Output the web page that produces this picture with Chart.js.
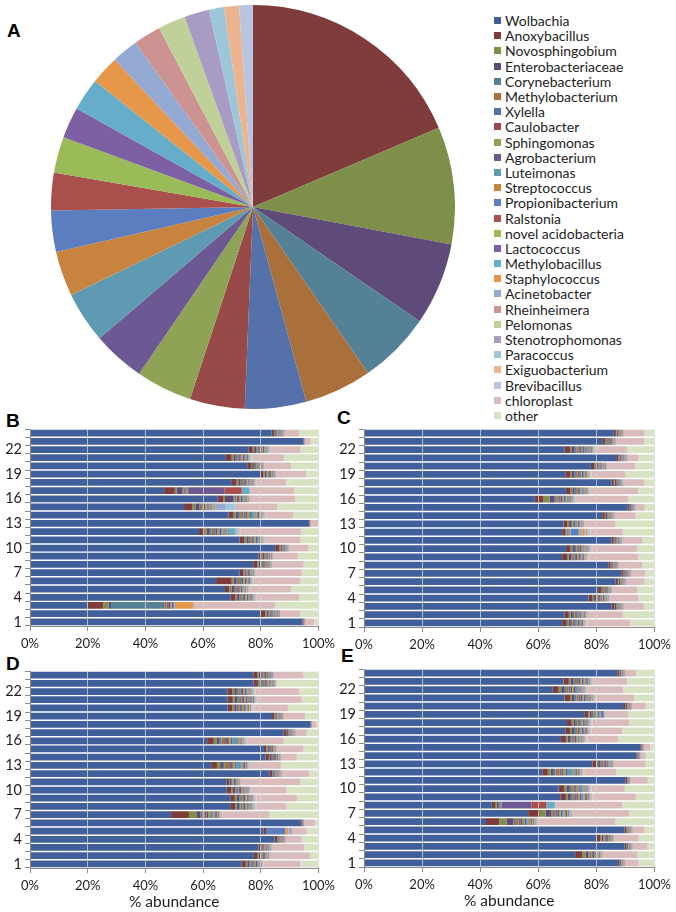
<!DOCTYPE html>
<html>
<head>
<meta charset="utf-8">
<script src="https://cdn.jsdelivr.net/npm/chart.js@4.4.1/dist/chart.umd.min.js"></script>
<style>
  body { margin: 0; background: #fff; width: 676px; height: 912px; position: relative; overflow: hidden; }
  canvas { position: absolute; }
  .lbl { position: absolute; font: bold 19px "Liberation Sans", Arial, sans-serif; line-height: 19px; color: #000; }
  #legend { position: absolute; left: 494px; top: 13px; margin: 0; padding: 0; list-style: none;
            font: 14px Lato, "DejaVu Sans", sans-serif; color: #1e1e1e; }
  #legend li { height: 15.2px; display: flex; align-items: center; white-space: nowrap; }
  #legend span { display: inline-block; width: 7px; height: 7px; margin-right: 4px; }
</style>
</head>
<body>
<div class="lbl" style="left:7px;top:21px">A</div>
<div class="lbl" style="left:6px;top:411px">B</div>
<div class="lbl" style="left:337px;top:408px">C</div>
<div class="lbl" style="left:6px;top:654px">D</div>
<div class="lbl" style="left:341px;top:646px">E</div>

<canvas id="pie" width="404" height="404" style="left:51px;top:5px"></canvas>
<ul id="legend"></ul>
<canvas id="chartB" width="340" height="250" style="left:0px;top:405px"></canvas>
<canvas id="chartC" width="342" height="250" style="left:334px;top:405px"></canvas>
<canvas id="chartD" width="340" height="264" style="left:0px;top:648px"></canvas>
<canvas id="chartE" width="342" height="264" style="left:334px;top:648px"></canvas>

<script>
// taxa in legend / stacking order
const taxa = ['Wolbachia', 'Anoxybacillus', 'Novosphingobium', 'Enterobacteriaceae', 'Corynebacterium',
  'Methylobacterium', 'Xylella', 'Caulobacter', 'Sphingomonas', 'Agrobacterium', 'Luteimonas',
  'Streptococcus', 'Propionibacterium', 'Ralstonia', 'novel acidobacteria', 'Lactococcus',
  'Methylobacillus', 'Staphylococcus', 'Acinetobacter', 'Rheinheimera', 'Pelomonas',
  'Stenotrophomonas', 'Paracoccus', 'Exiguobacterium', 'Brevibacillus', 'chloroplast', 'other'];

const taxaColors = ['#41609b', '#7e3c3b', '#7d8f49', '#5e4b7a', '#558197', '#a9703b', '#5571a9',
  '#974a48', '#8fa356', '#6c5893', '#5e9bb2', '#c8833f', '#5b7ec0', '#a9504d', '#9bbb59',
  '#7c60a3', '#66adc9', '#e6974a', '#95aad3', '#cc9392', '#bfd098', '#a99cc4', '#9dc7d9',
  '#ebb48f', '#b8c4e0', '#dbbcbd', '#d8e3c4'];

// pie: share of non-Wolbachia taxa (Wolbachia, chloroplast, other not shown)
const pieShares = [0, 18.6, 9.4, 6.6, 5.8, 5.4, 4.9, 4.4, 4.5, 4.2, 4.1, 3.6, 3.3, 3.0, 2.9,
  2.5, 2.6, 2.3, 2.1, 2.2, 2.2, 2.0, 1.2, 1.2, 1.1, 0, 0];

const barLabels = ['1', '2', '3', '4', '5', '6', '7', '8', '9', '10', '11', '12',
  '13', '14', '15', '16', '17', '18', '19', '20', '21', '22', '23', '24'];

// ---- panel B ----
const wolB = [94.5, 79.9, 20.0, 69.5, 67.6, 64.5, 72.7, 77.4, 79.2, 85.0, 72.7, 58.6,
  96.7, 68.8, 53.4, 65.1, 46.5, 70.0, 79.9, 75.3, 67.9, 75.7, 94.8, 83.7];
const chlB = [3.2, 6.6, 27.7, 14.8, 14.0, 16.2, 15.8, 10.6, 8.3, 6.7, 12.1, 20.9,
  2.8, 9.3, 14.8, 15.4, 15.3, 10.3, 10.3, 9.3, 10.9, 10.5, 2.1, 5.1];
const othB = [1.5, 6.4, 15.1, 6.7, 9.5, 6.2, 5.8, 5.2, 7.2, 3.5, 6.3, 6.0,
  0, 8.7, 14.2, 8.1, 8.3, 11.2, 4.3, 9.5, 12.0, 6.2, 2.7, 6.7];
// minor taxa per sample (Anoxybacillus ... Brevibacillus), missing = 0
const midB = [
  [0.3,0.1,0.1,0,0.1,0,0.1,0,0,0,0,0,0,0,0,0,0,0.1],
  [1.6,0.5,0.7,0.4,0.5,0.4,0.3,0.4,0.4,0.3,0.2,0.3,0.2,0.2,0.2,0.1,0.1,0.1,0.1,0.1],
  [5.4,1.8,0.9,18.4,0.8,0.6,0.8,0.4,0.5,0.5,0.1,0.1,0,0,0,0,6.3,0.2,0.2,0.1,0.1],
  [1.7,0.6,0.8,0.5,0.6,0.5,0.4,0.5,0.5,0.4,0.3,0.3,0.3,0.2,0.2,0.3,0.2,0.2,0.2,0.1,0.1,0.1],
  [1.5,0.7,0.9,0.4,0.6,0.5,0.5,0.4,0.5,0.4,0.3,0.3,0.2,0.3,0.2,0.2,0.2,0.2,0.2,0.1,0.1,0.1,0.1],
  [5.4,0.7,0.9,0.6,0.7,0.6,0.5,0.5,0.5,0.4,0.3,0.3,0.3,0.2,0.2,0.2,0.2,0.1,0.1,0.1,0.1,0.1,0.1],
  [1.2,0.4,0.5,0.3,0.4,0.4,0.3,0.3,0.3,0.3,0.2,0.2,0.2,0.1,0.1,0.1,0.1,0.1,0.1,0.1],
  [1.4,0.5,0.6,0.4,0.5,0.4,0.3,0.4,0.3,0.3,0.3,0.2,0.2,0.2,0.2,0.2,0.1,0.1,0.1,0.1],
  [1.1,0.4,0.5,0.3,0.4,0.3,0.3,0.3,0.3,0.2,0.2,0.2,0.2,0.1,0.1,0.1,0.1,0.1,0.1],
  [1.5,0.3,0.5,0.3,0.4,0.3,0.2,0.2,0.2,0.2,0.1,0.1,0.1,0.1,0.1,0.1,0.1],
  [1.7,0.6,0.8,0.5,0.6,0.5,0.4,0.5,0.4,0.4,0.3,0.3,0.3,0.3,0.2,0.2,0.2,0.2,0.2,0.1,0.1,0.1],
  [1.9,0.8,1.0,0.7,0.8,0.6,0.6,0.6,0.6,0.6,0.5,0.5,0.4,0.4,0.3,2.3,0.3,0.5,0.3,0.2,0.2,0.2,0.1,0.1],
  [0.2,0.1,0.1,0,0.1],
  [1.8,0.7,1.0,0.8,0.9,0.7,0.6,0.7,0.6,1.3,0.6,0.5,0.4,0.4,0.3,0.4,0.3,0.3,0.2,0.2,0.2,0.1,0.1,0.1],
  [2.8,1.1,1.5,0.5,0.6,0.4,0.4,0.5,0.4,0.5,0.4,0.4,0.3,0.4,0.3,0.3,0.3,3.1,0,0,0,3.4],
  [2.0,0.5,2.8,0.5,0.7,0.5,0.5,0.5,0.4,0.6,0.4,0.3,0.3,0.3,0.2,0.3,0.2,0.2,0.2],
  [3.7,0.6,2.1,0.4,0.5,0.4,0.3,0.3,12.6,0,0,0,6.0,0,0,2.7,0.1,0.1,0.1],
  [1.6,0.6,0.8,0.5,0.6,0.5,0.4,0.4,0.4,0.4,0.3,0.3,0.3,0.2,0.2,0.2,0.2,0.2,0.1,0.1,0.1,0.1],
  [1.0,0.4,0.6,0.4,0.5,0.4,0.3,0.3,0.3,0.2,0.2,0.2,0.2,0.1,0.1,0.1,0.1,0.1],
  [1.3,0.4,0.6,0.4,0.5,0.4,0.3,0.3,0.3,0.3,0.2,0.2,0.2,0.1,0.1,0.1,0.1,0.1],
  [2.0,0.6,0.8,0.5,0.6,0.5,0.4,0.4,0.5,0.4,0.3,0.3,0.3,0.2,0.2,0.2,0.2,0.2,0.1,0.1,0.1,0.1,0.1,0.1],
  [1.5,0.5,0.7,0.5,0.5,0.5,0.4,0.4,0.4,0.3,0.3,0.3,0.2,0.2,0.2,0.2,0.1,0.1,0.1,0.1,0.1],
  [0.2,0,0.1,0,0.1],
  [0.9,0.4,0.5,0.3,0.4,0.3,0.3,0.2,0.2,0.2,0.2,0.2,0.1,0.1,0.1,0.1]
];

// ---- panel C ----
const wolC = [68.2, 69.0, 85.2, 77.3, 80.6, 86.6, 88.6, 84.1, 68.2, 69.5, 85.2, 68.2,
  68.7, 82.0, 90.8, 58.8, 69.5, 85.2, 69.3, 78.1, 86.8, 69.1, 82.0, 86.0];
const chlC = [14.8, 11.6, 6.9, 9.8, 8.6, 6.4, 4.9, 8.2, 17.0, 15.4, 7.0, 11.0,
  10.5, 7.1, 3.2, 17.7, 16.2, 7.4, 11.6, 9.7, 3.9, 10.8, 9.7, 7.2];
const othC = [8.3, 10.9, 3.7, 5.5, 6.0, 3.4, 3.2, 4.1, 5.5, 6.0, 4.1, 10.9,
  13.4, 6.6, 3.4, 9.1, 5.7, 3.5, 10.0, 6.6, 5.5, 9.4, 3.5, 3.4];
const midC = [
  [1.6,0.6,0.8,0.5,0.6,0.5,0.4,0.4,0.4,0.4,0.3,0.3,0.3,0.2,0.2,0.2,0.2,0.2,0.1,0.1,0.1,0.1,0.1,0.1],
  [1.5,0.6,0.8,0.5,0.6,0.5,0.4,0.5,0.4,0.4,0.3,0.3,0.3,0.2,0.2,0.2,0.2,0.2,0.2,0.1,0.1],
  [0.9,0.3,0.5,0.3,0.4,0.3,0.2,0.2,0.2,0.2,0.2,0.1,0.1,0.1,0.1,0,0.1],
  [1.4,0.5,0.7,0.5,0.5,0.5,0.4,0.4,0.4,0.3,0.3,0.3,0.2,0.2,0.2,0.2,0.1,0.1,0.1,0.1],
  [1.0,0.4,0.5,0.4,0.4,0.3,0.3,0.2,0.2,0.2,0.2,0.2,0.1,0.1,0.1,0.1,0.1],
  [0.8,0.3,0.4,0.3,0.3,0.2,0.2,0.2,0.2,0.2,0.1,0.1,0.1,0.1,0.1],
  [0.7,0.3,0.4,0.2,0.3,0.2,0.2,0.2,0.2,0.1,0.1,0.1,0.1,0.1,0.1],
  [0.7,0.3,0.5,0.3,0.3,0.2,0.2,0.2,0.2,0.2,0.1,0.1,0.1,0.1,0.1],
  [1.7,0.6,0.9,0.5,0.6,0.5,0.5,0.5,0.4,0.4,0.3,0.3,0.3,0.3,0.2,0.2,0.2,0.2,0.2,0.1,0.1,0.1,0.1,0.1],
  [1.6,0.6,0.9,0.5,0.6,0.5,0.5,0.5,0.4,0.4,0.3,0.3,0.3,0.3,0.2,0.2,0.2,0.2,0.2,0.1,0.1,0.1,0.1],
  [0.8,0.3,0.4,0.3,0.3,0.2,0.2,0.2,0.2,0.2,0.1,0.1,0.1,0.1,0.1,0.1],
  [1.2,0.3,0.3,0.3,0.3,0.2,0.1,0.1,0.1,0.1,0,2.7,0.2,0.2,0.2,0.3,1.0,0.5,0.5,0.4,0.4,0.3,0.1,0.1],
  [1.3,0.6,0.7,0.5,0.5,0.5,0.4,0.4,0.4,0.3,0.3,0.3,0.2,0.2,0.2,0.2,0.1,0.1,0.1,0.1],
  [0.9,0.4,0.5,0.3,0.4,0.3,0.2,0.2,0.2,0.2,0.2,0.1,0.1,0.1,0.1,0.1],
  [0.6,0.2,0.3,0.2,0.2,0.2,0.1,0.1,0.1,0.1,0.1,0.1,0.1,0.1,0.1],
  [3.0,2.1,1.7,0.6,0.8,0.7,0.6,0.5,0.5,0.5,0.5,0.5,0.4,0.3,0.3,0.3,0.2,0.2,0.2,0.2,0.2,0.1],
  [1.6,0.6,0.8,0.5,0.6,0.5,0.4,0.4,0.4,0.4,0.3,0.3,0.3,0.2,0.2,0.2,0.2,0.2,0.1,0.1,0.1,0.1,0.1],
  [0.8,0.3,0.5,0.3,0.3,0.3,0.2,0.2,0.2,0.2,0.1,0.1,0.1,0.1,0.1,0.1],
  [1.7,0.6,0.8,0.6,0.6,0.5,0.5,0.4,0.4,0.4,0.3,0.3,0.3,0.3,0.2,0.2,0.2,0.2,0.1,0.1,0.1,0.1,0.1,0.1],
  [1.1,0.4,0.6,0.4,0.5,0.4,0.3,0.3,0.3,0.3,0.2,0.2,0.2,0.1,0.1,0.1,0.1],
  [0.8,0.3,0.5,0.3,0.3,0.3,0.2,0.2,0.2,0.2,0.1,0.1,0.1,0.1,0.1],
  [1.8,0.7,0.9,0.6,0.7,0.6,0.5,0.5,0.5,0.9,0.4,0.4,0.3,0.3,0.3,0.3,0.2,0.2,0.2,0.1,0.1,0.1,0.1],
  [1.0,0.4,0.5,0.4,0.4,0.3,0.3,0.2,0.2,0.2,0.2,0.2,0.1,0.1,0.1,0.1,0.1],
  [0.7,0.3,0.4,0.3,0.3,0.2,0.2,0.2,0.2,0.1,0.1,0.1,0.1,0.1,0.1]
];

// ---- panel D ----
const wolD = [73.3, 77.6, 79.2, 84.8, 81.0, 93.9, 48.9, 69.4, 69.4, 68.2, 68.2, 83.1,
  62.8, 81.6, 81.1, 61.4, 87.9, 97.3, 83.9, 68.5, 68.5, 68.5, 77.5, 77.4];
const chlD = [12.8, 13.9, 11.3, 5.7, 5.1, 4.0, 16.2, 10.3, 14.0, 11.8, 20.5, 9.5,
  10.6, 5.5, 9.2, 12.6, 4.0, 1.7, 7.4, 11.8, 15.2, 15.1, 0, 10.3];
const othD = [6.2, 3.0, 5.0, 5.8, 4.1, 1.1, 17.0, 11.2, 7.5, 11.2, 6.4, 3.2,
  12.9, 7.5, 5.2, 12.1, 4.1, 0.7, 4.7, 10.6, 5.8, 6.7, 14.6, 5.2];
const midD = [
  [1.5,0.5,0.7,0.5,0.5,0.5,0.4,0.4,0.4,0.3,0.3,0.3,0.3,0.2,0.2,0.2,0.1,0.1,0.1,0.1,0.1],
  [1.3,0.4,0.6,0.4,0.4,0.4,0.3,0.3,0.3,0.2,0.2,0.2,0.1,0.1,0.1,0.1,0.1],
  [0.9,0.4,0.5,0.3,0.4,0.3,0.3,0.2,0.2,0.2,0.2,0.2,0.1,0.1,0.1,0.1],
  [1.0,0.3,0.4,0.3,0.3,0.2,0.2,0.2,0.2,0.1,0.1,0.1,0.1,0.1,0.1],
  [1.0,0,0,0,0,0,0,0,0,0,0,6.5,0,0,0,0,1.1,1.2],
  [0.3,0.1,0.2,0.1,0.1,0.1,0.1],
  [6.2,2.8,1.2,0.6,0.9,0.6,0.5,0.8,0.5,0.6,0.5,0.4,0.4,0.3,0.3,0.3,0.2,0.2,0.2,0.2,0.1,0.1],
  [1.7,0.6,0.8,0.5,0.6,0.5,0.5,0.5,0.4,0.4,0.3,0.3,0.3,0.3,0.2,0.2,0.2,0.2,0.1,0.1,0.1,0.1,0.1,0.1],
  [1.6,0.7,0.8,0.6,0.6,0.5,0.4,0.5,0.4,0.4,0.3,0.3,0.3,0.2,0.2,0.2,0.2,0.2,0.2,0.1,0.1,0.1,0.1,0.1],
  [1.6,0.6,0.8,0.5,0.6,0.5,0.4,0.4,0.4,0.5,0.3,0.3,0.3,0.2,0.2,0.2,0.2,0.2,0.1,0.1,0.1,0.1,0.1,0.1],
  [0.8,0.3,0.6,0.3,0.4,0.5,0.3,0.2,0.3,0.2,0.2,0.2,0.1,0.1,0.1,0.1,0.1,0.1],
  [0.9,0.3,0.5,0.3,0.4,0.3,0.2,0.2,0.2,0.2,0.2,0.1,0.1,0.1,0.1,0.1],
  [2.0,1.1,1.0,0.6,1.5,0.7,0.6,0.6,0.6,1.8,0.5,0.4,0.4,0.3,0.3,0.3,0.2,0.3,0.2,0.1,0.1,0.1],
  [1.2,0.4,0.6,0.4,0.4,0.4,0.3,0.3,0.3,0.2,0.2,0.2,0.1,0.1,0.1,0.1,0.1],
  [0.9,0.3,0.5,0.4,0.4,0.3,0.3,0.2,0.2,0.2,0.2,0.2,0.1,0.1,0.1,0.1],
  [2.3,0.9,1.1,0.7,1.2,0.7,0.6,0.6,0.7,1.9,0.5,0.4,0.4,0.3,0.3,0.3,0.2,0.3,0.2,0.1,0.1,0.1],
  [0.9,0.3,0.5,0.3,0.4,0.3,0.2,0.2,0.2,0.2,0.1,0.1,0.1,0.1,0.1],
  [0.1,0,0.1,0,0.1],
  [0.8,0.3,0.5,0.3,0.4,0.3,0.2,0.3,0.2,0.2,0.1,0.1,0.1,0.1,0.1],
  [1.7,0.6,0.8,0.5,0.6,0.5,0.5,0.5,0.4,0.4,0.3,0.3,0.3,0.3,0.2,0.2,0.2,0.2,0.1,0.1,0.1,0.1,0.1,0.1],
  [1.8,0.7,0.9,0.6,0.7,0.6,0.5,0.5,0.6,0.5,0.4,0.4,0.3,0.3,0.3,0.3,0.2,0.2,0.2,0.1,0.1,0.1,0.1,0.1],
  [1.7,0.6,0.9,0.6,0.6,0.6,0.5,0.5,0.5,0.5,0.3,0.3,0.3,0.3,0.2,0.2,0.2,0.2,0.2,0.1,0.1,0.1,0.1,0.1],
  [1.5,0.5,0.8,0.5,0.6,0.5,0.4,0.4,0.4,0.4,0.3,0.3,0.3,0.2,0.2,0.2,0.2,0.1,0.1],
  [1.3,0.5,0.7,0.5,0.5,0.5,0.4,0.4,0.4,0.3,0.3,0.3,0.2,0.2,0.2,0.2,0.1,0.1]
];

// ---- panel E ----
const wolE = [87.4, 72.7, 89.7, 80.0, 89.7, 42.0, 56.5, 44.0, 67.6, 67.0, 90.0, 61.4,
  78.6, 93.8, 95.1, 67.8, 69.3, 69.9, 75.8, 89.2, 69.0, 65.0, 68.7, 87.2];
const chlE = [4.7, 11.6, 5.1, 8.2, 4.1, 26.7, 19.5, 23.3, 14.6, 11.4, 6.0, 11.0,
  11.0, 1.9, 2.3, 10.5, 10.4, 12.7, 8.1, 4.7, 13.1, 12.3, 11.7, 3.6];
const othE = [5.5, 5.8, 2.4, 5.5, 3.4, 13.4, 8.7, 11.0, 6.4, 10.2, 2.3, 13.2,
  3.0, 3.0, 1.4, 12.6, 11.2, 8.7, 8.9, 3.0, 6.9, 10.8, 9.4, 6.4];
const midE = [
  [0.6,0.2,0.3,0.2,0.2,0.1,0.1,0.1,0.1,0.1,0.1,0.1,0.1,0.1],
  [2.5,1.1,0.9,0.5,0.6,0.5,0.4,0.4,0.4,0.4,0.3,0.3,0.3,0.2,0.2,0.2,0.2,0.2,0.1,0.1,0.1],
  [0.7,0.2,0.3,0.2,0.2,0.2,0.2,0.1,0.1,0.1,0.1,0.1,0.1,0.1,0.1],
  [1.3,0.5,0.6,0.4,0.5,0.4,0.4,0.3,0.3,0.3,0.2,0.2,0.2,0.2,0.1,0.1,0.1,0.1,0.1],
  [0.7,0.3,0.3,0.2,0.2,0.2,0.1,0.1,0.1,0.1,0.1,0.1,0.1,0.1,0.1],
  [4.6,2.5,2.3,0.6,1.2,0.8,0.6,0.6,0.6,0.6,0.5,0.5,0.4,0.4,0.3,0.3,0.4,0.3,0.2,0.1,0.1],
  [4.0,2.0,2.0,0.5,1.0,0.7,0.5,0.5,0.5,0.5,0.4,0.4,0.4,0.3,0.3,0.3,0.2,0.6,0.1,0.1],
  [1.1,0.5,0.8,0.4,0.3,0.3,0,0,10.2,0,0,0,5.2,0,0,2.9],
  [1.9,0.7,1.0,0.7,0.7,0.6,0.6,0.5,0.6,0.7,0.4,0.4,0.4,0.3,0.3,0.3,0.3,0.2,0.2,0.2,0.1,0.1,0.1,0.1],
  [2.0,0.7,0.9,0.7,0.8,0.6,0.5,0.6,0.5,0.8,0.4,0.4,0.3,0.3,0.3,0.3,0.3,0.3,0.2,0.1,0.1,0.1,0.1,0.1],
  [0.6,0.1,0.2,0.1,0.2,0.1,0.1,0.1,0.1,0.1],
  [1.9,1.0,1.0,0.6,1.4,0.7,0.6,0.7,0.6,2.0,0.5,0.5,0.4,0.4,0.3,0.4,0.3,0.3,0.3,0.2,0.1,0.1,0.1],
  [1.3,0.7,0.8,0.5,0.5,0.5,0.4,0.4,0.4,0.4,0.3,0.3,0.2,0.2,0.2,0.2,0.1],
  [0.4,0.1,0.2,0.1,0.1,0.1,0.1,0.1,0.1],
  [0.4,0.1,0.2,0.1,0.1,0.1,0.1,0.1],
  [1.7,0.6,0.8,0.5,0.6,0.5,0.5,0.5,0.4,0.4,0.3,0.3,0.3,0.3,0.2,0.2,0.2,0.2,0.1,0.1,0.1,0.1,0.1,0.1],
  [1.6,0.7,0.8,0.6,0.6,0.5,0.4,0.5,0.4,0.4,0.3,0.3,0.3,0.2,0.2,0.2,0.2,0.2,0.2,0.1,0.1,0.1,0.1,0.1],
  [1.6,0.6,0.8,0.5,0.6,0.5,0.4,0.4,0.4,0.4,0.3,0.3,0.3,0.2,0.2,0.2,0.2,0.2,0.1,0.1,0.1,0.1,0.1,0.1],
  [1.4,0.5,0.7,0.5,0.5,0.4,0.4,0.4,0.3,0.3,0.2,1.0,0.2,0.2,0.1,0.1],
  [0.7,0.3,0.4,0.2,0.3,0.2,0.2,0.2,0.2,0.1,0.1,0.1,0.1],
  [1.9,0.7,0.9,0.7,0.7,0.6,0.6,0.5,0.6,0.6,0.4,0.4,0.4,0.3,0.3,0.3,0.2,0.2,0.2,0.2,0.1,0.1,0.1],
  [2.0,0.9,1.0,0.7,0.8,0.7,0.6,0.6,0.6,0.8,0.4,0.4,0.4,0.3,0.3,0.3,0.3,0.3,0.2,0.1,0.1,0.1],
  [1.8,0.6,0.9,0.6,0.7,0.6,0.5,0.5,0.5,0.6,0.4,0.4,0.3,0.3,0.3,0.3,0.2,0.2,0.2,0.1,0.1,0.1],
  [0.7,0.2,0.3,0.2,0.2,0.2,0.2,0.1,0.1,0.1,0.1,0.1,0.1,0.1,0.1]
];

Chart.defaults.font.family = 'Lato, "DejaVu Sans", sans-serif';
Chart.defaults.color = '#1e1e1e';

// legend for the whole figure, built from the taxa list
const legendEl = document.getElementById('legend');
taxa.forEach((name, i) => {
  const li = document.createElement('li');
  const box = document.createElement('span');
  box.style.background = taxaColors[i];
  li.appendChild(box);
  li.appendChild(document.createTextNode(name));
  legendEl.appendChild(li);
});

new Chart(document.getElementById('pie').getContext('2d'), {
  type: 'pie',
  data: {
    labels: taxa,
    datasets: [{ data: pieShares, backgroundColor: taxaColors, borderWidth: 0 }]
  },
  options: {
    responsive: false,
    animation: false,
    devicePixelRatio: 1,
    layout: { padding: 0 },
    plugins: { legend: { display: false }, tooltip: { enabled: false } }
  }
});

function buildDatasets(wol, mid, chl, oth) {
  return taxa.map((name, i) => {
    let data;
    if (i === 0) data = wol;
    else if (i === 25) data = chl;
    else if (i === 26) data = oth;
    else data = mid.map(row => row[i - 1] || 0);
    return {
      label: name,
      data: data,
      backgroundColor: taxaColors[i],
      borderWidth: 0,
      barPercentage: 0.82,
      categoryPercentage: 1
    };
  });
}

function makeBarChart(id, wol, mid, chl, oth, pad, withTitle) {
  const ctx = document.getElementById(id).getContext('2d');
  return new Chart(ctx, {
    type: 'bar',
    data: { labels: barLabels, datasets: buildDatasets(wol, mid, chl, oth) },
    options: {
      indexAxis: 'y',
      responsive: false,
      animation: false,
      devicePixelRatio: 1,
      layout: { padding: pad },
      plugins: { legend: { display: false }, tooltip: { enabled: false } },
      scales: {
        x: {
          stacked: true,
          min: 0,
          max: 100,
          ticks: { stepSize: 20, callback: v => v + '%', font: { size: 13 }, padding: 5, maxRotation: 0 },
          grid: { color: 'rgba(214,214,214,0.75)', z: 1, tickColor: '#8c8c8c', tickLength: 5 },
          border: { color: '#8c8c8c', z: 1 },
          title: { display: withTitle, text: '% abundance', font: { size: 15.5 }, padding: 0 },
          afterFit: s => { s.height = withTitle ? 43 : 25; }
        },
        y: {
          stacked: true,
          reverse: true,
          ticks: {
            autoSkip: false,
            font: { size: 14.5 },
            padding: 3,
            callback: function (v, i) { return i % 3 === 0 ? this.getLabelForValue(v) : ''; }
          },
          grid: { drawOnChartArea: false, color: '#8c8c8c', tickLength: 5 },
          border: { color: '#8c8c8c', z: 1 },
          afterFit: s => { s.width = 30; }
        }
      }
    }
  });
}

makeBarChart('chartB', wolB, midB, chlB, othB, { top: 24, right: 18, bottom: 4, left: 0 }, false);
makeBarChart('chartC', wolC, midC, chlC, othC, { top: 24, right: 18, bottom: 3, left: 0 }, false);
makeBarChart('chartD', wolD, midD, chlD, othD, { top: 23, right: 18, bottom: 1, left: 0 }, true);
makeBarChart('chartE', wolE, midE, chlE, othE, { top: 21, right: 18, bottom: 2, left: 0 }, true);
</script>
</body>
</html>
